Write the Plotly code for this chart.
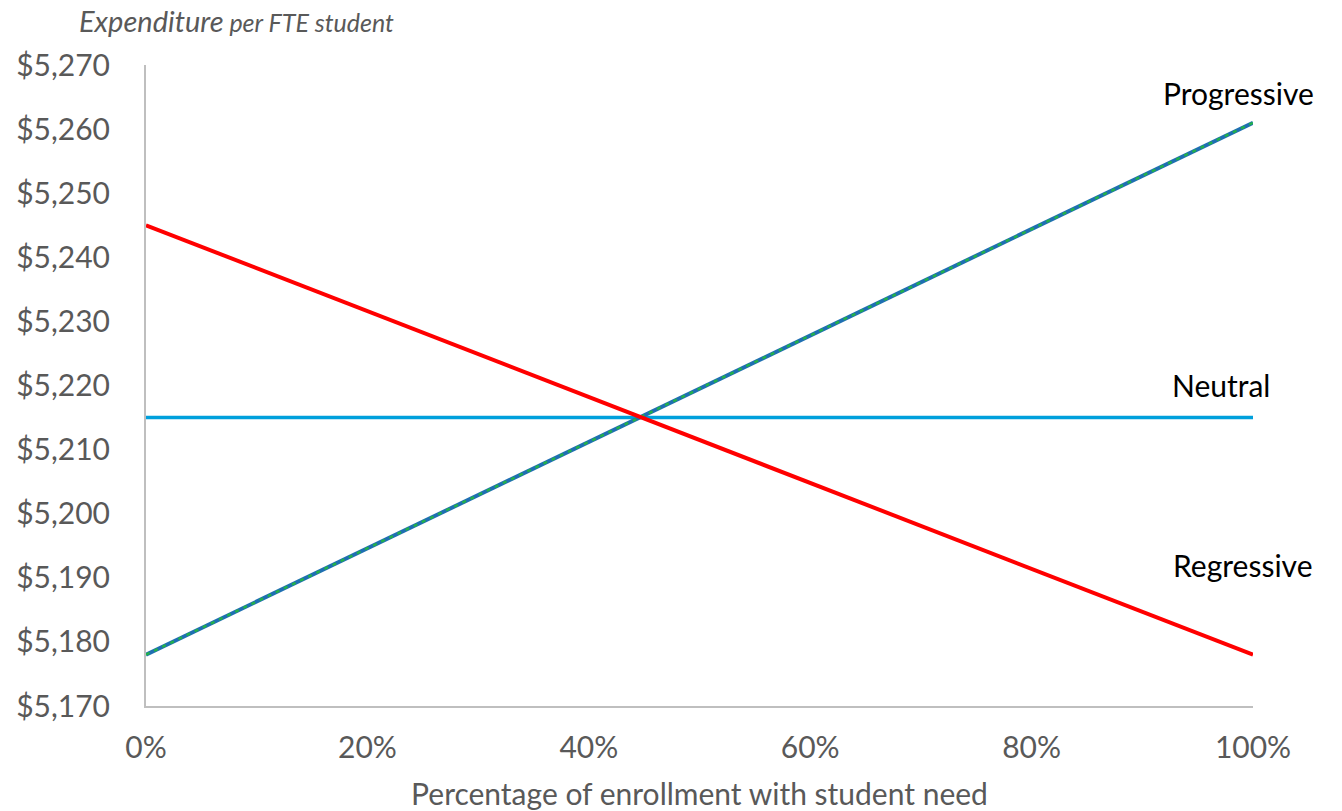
import plotly.graph_objects as go

# Share of enrollment with student need (0 to 100%)
need_share = [0.0, 1.0]

# Expenditure per FTE student under each funding pattern
progressive = [5178, 5261]
neutral = [5215, 5215]
regressive = [5245, 5178]

y_ticks = [5170, 5180, 5190, 5200, 5210, 5220, 5230, 5240, 5250, 5260, 5270]
y_tick_text = [f"${v:,}" for v in y_ticks]
x_ticks = [0.0, 0.2, 0.4, 0.6, 0.8, 1.0]
x_tick_text = [f"{round(v * 100)}%" for v in x_ticks]

font_family = "Lato, 'Open Sans', sans-serif"
tick_color = "#595959"

fig = go.Figure()

fig.add_trace(go.Scatter(
    x=need_share, y=neutral, mode="lines",
    line=dict(color="#00A0DC", width=3.5), name="Neutral",
))
# Progressive: blue line with green dashes laid over it
fig.add_trace(go.Scatter(
    x=need_share, y=progressive, mode="lines",
    line=dict(color="#1F6FB2", width=4), name="Progressive",
))
fig.add_trace(go.Scatter(
    x=need_share, y=progressive, mode="lines",
    line=dict(color="#22B04B", width=2.5, dash="4px,5px"), name="Progressive",
))
fig.add_trace(go.Scatter(
    x=need_share, y=regressive, mode="lines",
    line=dict(color="#FF0000", width=4), name="Regressive",
))

label_font = dict(family=font_family, size=30, color="#000000")
fig.add_annotation(x=0.987, y=5265.6, text="Progressive", showarrow=False,
                   xanchor="center", yanchor="middle", font=label_font)
fig.add_annotation(x=0.971, y=5220.1, text="Neutral", showarrow=False,
                   xanchor="center", yanchor="middle", font=label_font)
fig.add_annotation(x=0.991, y=5192.0, text="Regressive", showarrow=False,
                   xanchor="center", yanchor="middle", font=label_font)

# Axis title for the expenditure scale, placed above the plot area
fig.add_annotation(
    xref="paper", yref="paper", x=-0.0623, y=1.0, yshift=45,
    text="<i>Expenditure</i><span style='font-size:25px'><i> per FTE student</i></span>",
    showarrow=False, xanchor="left", yanchor="middle",
    font=dict(family=font_family, size=29, color=tick_color),
)

fig.update_layout(
    width=1342, height=811,
    margin=dict(l=146, r=89, t=65, b=105),
    plot_bgcolor="white", paper_bgcolor="white",
    showlegend=False,
    font=dict(family=font_family, color=tick_color),
    xaxis=dict(
        range=[0, 1], tickvals=x_ticks, ticktext=x_tick_text,
        showgrid=False, zeroline=False, automargin=False,
        showline=True, linecolor="#BFBFBF", linewidth=2,
        ticks="", ticklabelstandoff=14,
        tickfont=dict(family=font_family, size=30, color=tick_color),
        title=dict(text="Percentage of enrollment with student need",
                   font=dict(family=font_family, size=30, color=tick_color),
                   standoff=24),
    ),
    yaxis=dict(
        range=[5170, 5270], tickvals=y_ticks, ticktext=y_tick_text,
        showgrid=False, zeroline=False, automargin=False,
        showline=True, linecolor="#BFBFBF", linewidth=2,
        ticks="", ticklabelstandoff=28,
        tickfont=dict(family=font_family, size=30, color=tick_color),
    ),
)

fig.write_html("out.html")
